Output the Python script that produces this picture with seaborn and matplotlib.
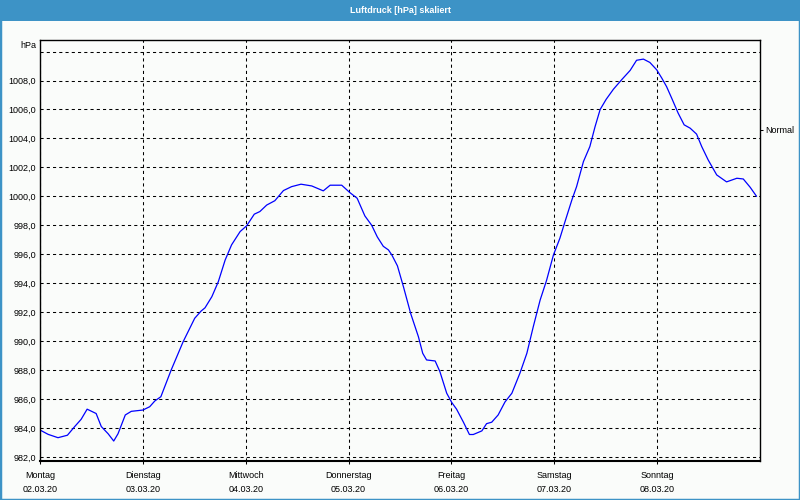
import matplotlib
matplotlib.use("Agg")
import matplotlib.pyplot as plt
from matplotlib.patches import Rectangle
import pandas as pd
import seaborn as sns

# ---- data -------------------------------------------------------------
hours = [0.0, 1.9, 4.2, 6.4, 8.1, 9.6, 11.0, 13.1, 14.3, 15.9, 17.2, 18.2,
         19.9, 21.3, 24.0, 25.6, 26.8, 28.2, 30.6, 33.4, 36.1, 37.6, 38.5,
         40.1, 41.6, 43.2, 44.7, 46.7, 48.2, 50.0, 51.3, 52.9, 54.8, 56.8,
         58.7, 60.9, 63.4, 66.1, 67.7, 70.4, 72.3, 74.0, 75.8, 77.4, 78.7,
         80.1, 81.3, 82.1, 83.4, 84.8, 86.5, 88.3, 89.3, 90.2, 92.2, 93.3,
         94.9, 96.1, 97.2, 98.8, 100.2, 101.1, 103.1, 104.2, 105.4, 106.9,
         108.5, 110.1, 112.0, 113.6, 115.1, 116.7, 118.2, 119.8, 121.3,
         122.5, 124.1, 125.2, 126.8, 128.3, 129.5, 130.7, 132.1, 133.8,
         135.7, 137.7, 139.2, 140.8, 142.3, 143.9, 145.1, 146.2, 147.4,
         148.9, 150.3, 151.7, 153.2, 154.4, 155.9, 157.9, 160.2, 162.6,
         164.1, 165.7, 167.2]
pressure = [983.86, 983.56, 983.33, 983.5, 984.1, 984.6, 985.3, 985.0,
            984.1, 983.6, 983.1, 983.6, 984.9, 985.15, 985.24, 985.47,
            985.87, 986.16, 988.0, 989.96, 991.58, 992.08, 992.3, 993.07,
            994.1, 995.6, 996.65, 997.57, 997.96, 998.77, 998.95, 999.4,
            999.7, 1000.4, 1000.67, 1000.84, 1000.72, 1000.38, 1000.77,
            1000.77, 1000.26, 999.87, 998.65, 998.0, 997.2, 996.55, 996.3,
            995.95, 995.2, 993.76, 991.9, 990.3, 989.16, 988.7, 988.63,
            987.9, 986.4, 985.75, 985.3, 984.4, 983.55, 983.55, 983.8,
            984.3, 984.4, 984.9, 985.8, 986.4, 987.8, 989.16, 991.0, 992.84,
            994.2, 995.95, 997.1, 998.25, 999.75, 1000.67, 1002.4, 1003.44,
            1004.8, 1006.0, 1006.7, 1007.4, 1008.05, 1008.7, 1009.4, 1009.48,
            1009.25, 1008.74, 1008.16, 1007.58, 1006.78, 1005.75, 1004.94,
            1004.71, 1004.3, 1003.44, 1002.52, 1001.48, 1001.0, 1001.25,
            1001.2, 1000.63, 1000.0]
day_names = ["Montag", "Dienstag", "Mittwoch", "Donnerstag", "Freitag",
             "Samstag", "Sonntag"]
day_dates = ["02.03.20", "03.03.20", "04.03.20", "05.03.20", "06.03.20",
             "07.03.20", "08.03.20"]
y_levels = list(range(982, 1011, 2))
normal_level = 1004.6
title = "Luftdruck [hPa] skaliert"
unit = "hPa"

df = pd.DataFrame({"hour": hours, "hPa": pressure})

# ---- style ------------------------------------------------------------
sns.set_theme(style="white")
plt.rcParams["font.family"] = ["Liberation Sans", "DejaVu Sans"]
bg = "#FAFCFA"
blue = "#3D93C6"

fig = plt.figure(figsize=(8, 5), dpi=100, facecolor=bg)
ax = fig.add_axes([40 / 800, 1 - 461 / 500, 720 / 800, 421 / 500])
ax.set_facecolor(bg)

sns.lineplot(data=df, x="hour", y="hPa", ax=ax, color="#0000FF",
             linewidth=0.9, sort=False)

ylo, yhi = 981.72, 1010.8
ax.set_xlim(0, 168)
ax.set_ylim(ylo, yhi)

ax.set_yticks(y_levels)
ax.set_yticklabels([f"{v:.1f}".replace(".", ",") if v < 1010 else ""
                    for v in y_levels])
ax.set_xticks([24 * i for i in range(len(day_names))])
ax.set_xticklabels([f"{n}\n{d}" for n, d in zip(day_names, day_dates)],
                   linespacing=1.7)
ax.set_xlabel("")
ax.set_ylabel("")

ax.grid(True, color="black", linestyle=(0, (3, 3)), linewidth=0.75)
ax.tick_params(axis="y", length=0, pad=3, labelsize=6.5, colors="black")
ax.tick_params(axis="x", length=2.2, width=0.75, direction="out", pad=5,
               labelsize=6.5, colors="black", bottom=True)
for side, sp in ax.spines.items():
    sp.set_visible(True)
    sp.set_color("black")
    sp.set_linewidth(1.0)
ax.spines["bottom"].set_linewidth(1.5)

ax.text(-0.0056, 1010.45, unit, transform=ax.get_yaxis_transform(),
        ha="right", va="center", fontsize=6.5, color="black")

# right-hand "Normal" marker
ax2 = ax.twinx()
ax2.set_ylim(ylo, yhi)
ax2.set_yticks([normal_level])
ax2.set_yticklabels(["Normal"])
ax2.tick_params(axis="y", right=True, length=2.2, width=0.75, pad=1.5,
                labelsize=6.5, colors="black")
ax2.grid(False)
for sp in ax2.spines.values():
    sp.set_visible(False)

# title bar and frame
fig.patches.append(Rectangle((0, 1 - 21 / 500), 1, 21 / 500,
                             transform=fig.transFigure, facecolor=blue,
                             edgecolor="none", zorder=0))
fig.patches.append(Rectangle((0, 0), 1, 1, transform=fig.transFigure,
                             facecolor="none", edgecolor=blue,
                             linewidth=2.5, zorder=0))
fig.text(0.5, 1 - 10.5 / 500, title, ha="center", va="center",
         color="white", fontsize=6.5, fontweight="bold")

fig.savefig("out.png", dpi=100, facecolor=bg)
